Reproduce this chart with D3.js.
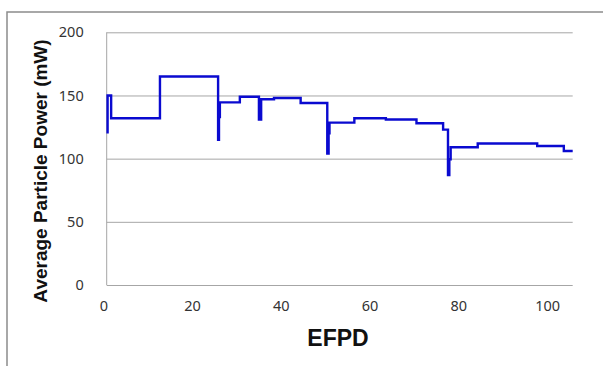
<!DOCTYPE html>
<html>
<head>
<meta charset="utf-8">
<script src="https://cdn.jsdelivr.net/npm/d3@7"></script>
<style>
  body { margin: 0; background: #fff; }
  svg { display: block; }
</style>
</head>
<body>
<div id="graph_draw"></div>
<script>
// step data (EFPD, mW)
var efpd  = [0.2, 0.2, 1.0, 12.0, 25.1, 25.3, 25.5, 30.0, 34.3, 34.8, 37.7, 43.7, 49.7, 50.0, 50.2, 55.8, 62.9, 69.8, 75.8, 76.9, 77.2, 77.5, 83.6, 97.0, 103.0, 105.0];
var power = [120, 150, 132, 165, 115, 133, 144.5, 149, 131, 147, 148, 144, 104, 120, 128.5, 132, 131, 128, 123, 87, 99.5, 109, 112, 110, 106, 106];
var xTicks = [0, 20, 40, 60, 80, 100];
var yTicks = [0, 50, 100, 150, 200];

var width = 603, height = 366;
var margin = {top: 32.3, right: 30.3, bottom: 81, left: 106.7};

var svg = d3.select("#graph_draw").append("svg")
    .attr("width", width)
    .attr("height", height);

// outer frame of the chart
svg.append("rect")
    .attr("x", 7).attr("y", 12)
    .attr("width", 640).attr("height", 400)
    .attr("fill", "none")
    .attr("stroke", "#8c8c8c")
    .attr("stroke-width", 1.5);

var x = d3.scaleLinear().domain([0, 105]).range([margin.left, width - margin.right]);
var y = d3.scaleLinear().domain([0, 200]).range([height - margin.bottom, margin.top]);

// horizontal gridlines
svg.append("g")
    .attr("transform", "translate(" + margin.left + ",0)")
    .call(d3.axisLeft(y).tickValues(yTicks).tickSize(-(x(105) - x(0))).tickFormat(""))
    .call(function(g){ g.select(".domain").remove(); })
    .selectAll("line").attr("stroke", "#a6a6a6");

// y axis line
svg.append("line")
    .attr("x1", x(0)).attr("x2", x(0))
    .attr("y1", y(0)).attr("y2", y(200))
    .attr("stroke", "#a6a6a6");

// y tick labels
var yAxis = svg.append("g")
    .attr("transform", "translate(" + (margin.left - 23) + ",0)")
    .call(d3.axisLeft(y).tickValues(yTicks).tickSize(0).tickPadding(0));
yAxis.select(".domain").remove();
yAxis.selectAll("text")
    .attr("font-family", "'Noto Sans', sans-serif")
    .attr("font-size", 14.5)
    .attr("fill", "#333");

// x tick labels
var xAxis = svg.append("g")
    .attr("transform", "translate(-3.4," + (y(0) + 16) + ")")
    .call(d3.axisBottom(x).tickValues(xTicks).tickSize(0).tickPadding(0));
xAxis.select(".domain").remove();
xAxis.selectAll("text")
    .attr("font-family", "'Noto Sans', sans-serif")
    .attr("font-size", 14.5)
    .attr("fill", "#333");

// the data line
var pts = efpd.map(function(d, i){ return [d, power[i]]; });
var line = d3.line()
    .x(function(d){ return x(d[0]); })
    .y(function(d){ return y(d[1]); })
    .curve(d3.curveStepAfter);

svg.append("path")
    .datum(pts)
    .attr("d", line)
    .attr("fill", "none")
    .attr("stroke", "#0a0ad0")
    .attr("stroke-width", 2.4);

// axis titles
svg.append("text")
    .attr("x", 338).attr("y", 346)
    .attr("text-anchor", "middle")
    .attr("font-family", "'Liberation Sans', Arial, sans-serif")
    .attr("font-weight", "bold")
    .attr("font-size", 23)
    .attr("fill", "#111")
    .text("EFPD");

svg.append("text")
    .attr("transform", "translate(47,171) rotate(-90)")
    .attr("text-anchor", "middle")
    .attr("font-family", "'Liberation Sans', Arial, sans-serif")
    .attr("font-weight", "bold")
    .attr("font-size", 19)
    .attr("fill", "#111")
    .text("Average Particle Power (mW)");
</script>
</body>
</html>
